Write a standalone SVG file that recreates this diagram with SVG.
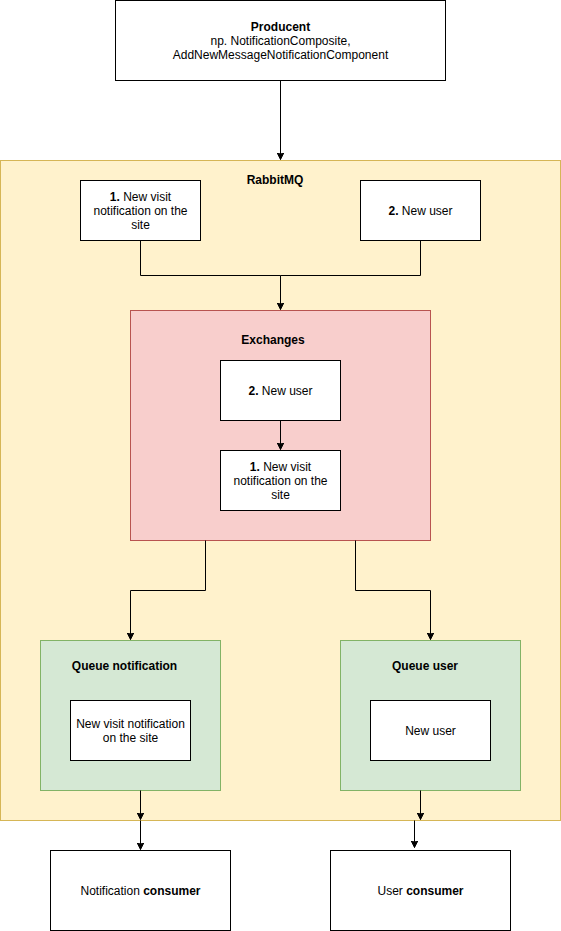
<svg xmlns="http://www.w3.org/2000/svg" width="561" height="931" viewBox="0 0 561 931">
<style>
text{font-family:"Liberation Sans",Arial,sans-serif;font-size:12px;fill:#000;text-anchor:middle}
.b{font-weight:bold}
.box{fill:#fff;stroke:#000;stroke-width:1}
.edge{fill:none;stroke:#000;stroke-width:1}
</style>
<defs>
<marker id="arr" markerUnits="userSpaceOnUse" markerWidth="10" markerHeight="10" refX="7" refY="4" orient="auto">
<path d="M0,0.5 L7,4 L0,7.5 L1.75,4 Z" fill="#000" stroke="#000" stroke-width="1"/>
</marker>
</defs>
<g id="rabbitmq">
<rect x="0.5" y="160.5" width="560" height="660" fill="#fff2cc" stroke="#d6b656"/>
<text x="275" y="184" class="b">RabbitMQ</text>
</g>
<g id="producent">
<rect class="box" x="115.5" y="0.5" width="330" height="80"/>
<text x="280.5" y="30.5" class="b">Producent</text>
<text x="280.5" y="44.5">np. NotificationComposite,</text>
<text x="280.5" y="58.5">AddNewMessageNotificationComponent</text>
</g>
<g id="msg1">
<rect class="box" x="80.5" y="180.5" width="120" height="60"/>
<text x="140.5" y="200.5"><tspan class="b">1.</tspan> New visit</text>
<text x="140.5" y="214.5">notification on the</text>
<text x="140.5" y="228.5">site</text>
</g>
<g id="msg2">
<rect class="box" x="360.5" y="180.5" width="120" height="60"/>
<text x="420.5" y="214.5"><tspan class="b">2.</tspan> New user</text>
</g>
<g id="exchanges">
<rect x="130.5" y="310.5" width="300" height="230" fill="#f8cecc" stroke="#b85450"/>
<text x="273" y="344" class="b">Exchanges</text>
</g>
<g id="ex2">
<rect class="box" x="220.5" y="360.5" width="120" height="60"/>
<text x="280.5" y="394.5"><tspan class="b">2.</tspan> New user</text>
</g>
<g id="ex1">
<rect class="box" x="220.5" y="450.5" width="120" height="60"/>
<text x="280.5" y="470.5"><tspan class="b">1.</tspan> New visit</text>
<text x="280.5" y="484.5">notification on the</text>
<text x="280.5" y="498.5">site</text>
</g>
<g id="queue-notification">
<rect x="40.5" y="640.5" width="180" height="150" fill="#d5e8d4" stroke="#82b366"/>
<text x="124.5" y="670" class="b">Queue notification</text>
</g>
<g id="qn-msg">
<rect class="box" x="70.5" y="700.5" width="120" height="60"/>
<text x="130.5" y="727.5">New visit notification</text>
<text x="130.5" y="741.5">on the site</text>
</g>
<g id="queue-user">
<rect x="340.5" y="640.5" width="180" height="150" fill="#d5e8d4" stroke="#82b366"/>
<text x="425" y="670" class="b">Queue user</text>
</g>
<g id="qu-msg">
<rect class="box" x="370.5" y="700.5" width="120" height="60"/>
<text x="430.5" y="734.5">New user</text>
</g>
<g id="notification-consumer">
<rect class="box" x="50.5" y="850.5" width="180" height="80"/>
<text x="140.5" y="894.5">Notification <tspan class="b">consumer</tspan></text>
</g>
<g id="user-consumer">
<rect class="box" x="330.5" y="850.5" width="180" height="80"/>
<text x="420.5" y="894.5">User <tspan class="b">consumer</tspan></text>
</g>
<g id="connectors">
<path class="edge" d="M280.5,80.5 V159.5" marker-end="url(#arr)"/>
<path class="edge" d="M140.5,240.5 V275.5 H280.5 V309.5" marker-end="url(#arr)"/>
<path class="edge" d="M420.5,240.5 V275.5 H280.5"/>
<path class="edge" d="M280.5,420.5 V449.5" marker-end="url(#arr)"/>
<path class="edge" d="M205.5,540.5 V590.5 H130.5 V639.5" marker-end="url(#arr)"/>
<path class="edge" d="M355.5,540.5 V590.5 H430.5 V639.5" marker-end="url(#arr)"/>
<path class="edge" d="M140.5,790.5 V819.5" marker-end="url(#arr)"/>
<path class="edge" d="M140.5,820.5 V849.5" marker-end="url(#arr)"/>
<path class="edge" d="M420.5,790.5 V819.5" marker-end="url(#arr)"/>
<path class="edge" d="M414.5,820.5 V847.5" marker-end="url(#arr)"/>
</g>
</svg>
